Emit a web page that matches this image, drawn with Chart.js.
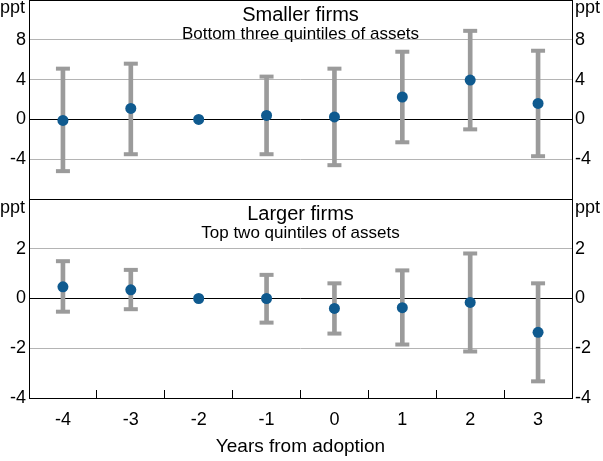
<!DOCTYPE html>
<html>
<head>
<meta charset="utf-8">
<script src="https://cdn.jsdelivr.net/npm/chart.js@4.4.1/dist/chart.umd.min.js"></script>
<style>
  body { margin: 0; background: #fff; font-family: "Liberation Sans", Arial, sans-serif; }
  #wrap { position: relative; width: 603px; height: 461px; overflow: hidden; }
  canvas { position: absolute; left: 0; }
  .ppt { position: absolute; font-size: 18px; color: #000; line-height: 18px; }
  .ttl { position: absolute; left: 29px; width: 543px; text-align: center; color: #000; white-space: nowrap; }
</style>
</head>
<body>
<div id="wrap">
  <canvas id="top" width="603" height="200" style="top:0"></canvas>
  <canvas id="bot" width="603" height="262" style="top:199px"></canvas>
  <div class="ppt" style="left:0;top:-2px">ppt</div>
  <div class="ppt" style="left:575px;top:-2px">ppt</div>
  <div class="ppt" style="left:0;top:198px">ppt</div>
  <div class="ppt" style="left:575px;top:198px">ppt</div>
  <div class="ttl" style="top:4px;font-size:20px;line-height:20px">Smaller firms</div>
  <div class="ttl" style="top:25px;font-size:17px;line-height:17px">Bottom three quintiles of assets</div>
  <div class="ttl" style="top:203px;font-size:20px;line-height:20px">Larger firms</div>
  <div class="ttl" style="top:224px;font-size:17px;line-height:17px">Top two quintiles of assets</div>
</div>
<script>
// ===== data =====
const years = ['-4', '-3', '-2', '-1', '0', '1', '2', '3'];

// smaller firms: bottom three quintiles
const smallEst = [-0.1, 1.1, 0, 0.4, 0.25, 2.25, 3.95, 1.6];
const smallLo  = [-5.2, -3.5, null, -3.5, -4.6, -2.3, -1.0, -3.7];
const smallHi  = [5.1, 5.6, null, 4.3, 5.1, 6.8, 8.9, 6.9];

// larger firms: top two quintiles
const largeEst = [0.47, 0.35, 0, 0, -0.4, -0.37, -0.16, -1.36];
const largeLo  = [-0.53, -0.43, null, -0.97, -1.41, -1.85, -2.13, -3.33];
const largeHi  = [1.5, 1.15, null, 0.95, 0.61, 1.13, 1.81, 0.61];

// axis ranges, and which tick labels are left blank
const smallTicks = { min: -8, max: 12, step: 4, hide: [-8, 12] };
const largeTicks = { min: -4, max: 4, step: 2, hide: [4] };

const DOT = '#0f5a8f';
const BAR = '#9b9b9b';
const GRID = '#b4b4b4';
const FAMILY = '"Liberation Sans", Arial, sans-serif';
const FONT = { family: FAMILY, size: 18 };

// black frame round the plot area
const framePlugin = {
  id: 'frame',
  afterDraw(chart) {
    const a = chart.chartArea;
    const ctx = chart.ctx;
    ctx.save();
    ctx.strokeStyle = '#000';
    ctx.lineWidth = 1;
    ctx.strokeRect(a.left + 0.5, a.top + 0.5, a.width, a.height);
    ctx.restore();
  }
};

function buildDatasets(est, lo, hi) {
  return [
    {
      type: 'line', data: est, order: 0, showLine: false,
      pointRadius: 5.5, pointHoverRadius: 5.5,
      pointBackgroundColor: DOT, pointBorderColor: DOT, borderWidth: 0
    },
    {
      type: 'line', data: lo, order: 1, showLine: false,
      pointStyle: 'line', pointRadius: 7, borderColor: BAR, borderWidth: 4
    },
    {
      type: 'line', data: hi, order: 1, showLine: false,
      pointStyle: 'line', pointRadius: 7, borderColor: BAR, borderWidth: 4
    },
    {
      type: 'bar', order: 2, barThickness: 4, backgroundColor: BAR, borderWidth: 0,
      data: lo.map((v, i) => (v === null ? null : [v, hi[i]]))
    }
  ];
}

function yAxis(range, pos, showGrid) {
  return {
    type: 'linear', position: pos, min: range.min, max: range.max,
    border: { display: false },
    grid: {
      display: showGrid, drawTicks: false,
      color: (c) => (c.tick && c.tick.value === 0 ? '#000' : GRID)
    },
    ticks: {
      stepSize: range.step, padding: 3, color: '#000', font: FONT,
      callback: (v) => (range.hide.includes(v) ? null : v)
    },
    afterFit: (s) => {
      s.width = pos === 'left' ? 29 : 31;
      s.paddingTop = 0;
      s.paddingBottom = 0;
    }
  };
}

function xAxis(showX) {
  if (!showX) return { display: false, offset: true };
  return {
    offset: true,
    border: { display: false },
    grid: { offset: true, drawOnChartArea: false, drawTicks: true, tickLength: -8, color: '#000' },
    ticks: { color: '#000', font: FONT, padding: 19, maxRotation: 0 },
    title: {
      display: true, text: 'Years from adoption', color: '#000',
      font: { family: FAMILY, size: 19 }, padding: { top: 0, bottom: 3 }
    },
    afterFit: (s) => {
      s.height = 63;
      s.paddingLeft = 0;
      s.paddingRight = 0;
    }
  };
}

function makeChart(id, est, lo, hi, range, showX) {
  return new Chart(document.getElementById(id), {
    type: 'bar',
    data: { labels: years, datasets: buildDatasets(est, lo, hi) },
    options: {
      responsive: false,
      animation: false,
      devicePixelRatio: 1,
      layout: { autoPadding: false, padding: { top: 0, bottom: showX ? 0 : 1, left: 0, right: 0 } },
      plugins: { legend: { display: false }, tooltip: { enabled: false } },
      scales: {
        x: xAxis(showX),
        y: yAxis(range, 'left', true),
        y2: yAxis(range, 'right', false)
      }
    },
    plugins: [framePlugin]
  });
}

makeChart('top', smallEst, smallLo, smallHi, smallTicks, false);
makeChart('bot', largeEst, largeLo, largeHi, largeTicks, true);
</script>
</body>
</html>
